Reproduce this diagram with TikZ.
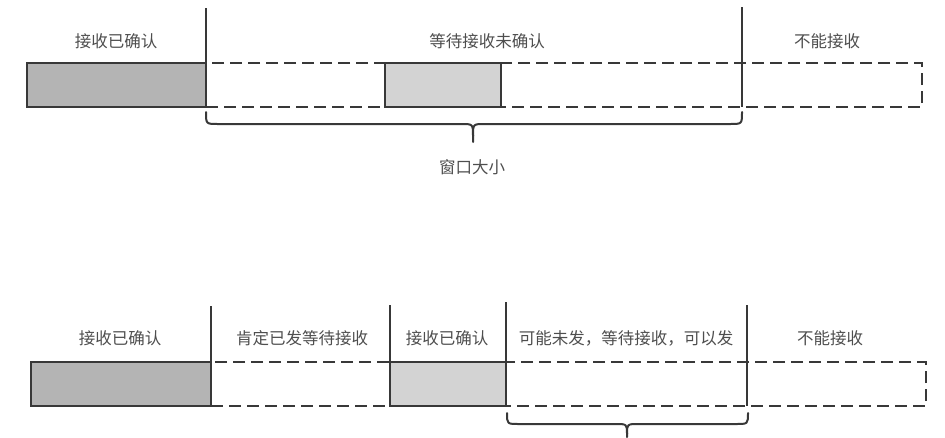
\documentclass[tikz,border=0pt]{standalone}
\usepackage{fontspec}
\setmainfont{Noto Sans CJK SC}
\definecolor{linec}{HTML}{383838}
\definecolor{textc}{HTML}{4E4E4E}
\definecolor{darkf}{HTML}{B4B4B4}
\definecolor{lightf}{HTML}{D3D3D3}
\begin{document}
\begin{tikzpicture}[x=1pt,y=-1pt,
  sepline/.style={draw=linec, line width=2pt},
  boxbase/.style={draw=linec, line width=2pt, anchor=north west, inner sep=0pt, outer sep=0pt, minimum height=44pt},
  darkbox/.style={boxbase, fill=darkf},
  lightbox/.style={boxbase, fill=lightf},
  dashbox/.style={boxbase, dash pattern=on 12pt off 6pt},
  lbl/.style={text=textc, font=\fontsize{16.5}{18}\selectfont, inner sep=0pt},
  bracepath/.style={draw=linec, line width=2pt, line cap=round, line join=round}]
\useasboundingbox (0,0) rectangle (945,437);

% ---------- top row ----------
\node[dashbox, minimum width=716pt] (tw) at (206,63) {};
\node[darkbox, minimum width=179pt] (ta) at (27,63) {};
\node[lightbox, minimum width=116pt] (tb) at (385,63) {};
\coordinate (t1top) at (206,8);
\coordinate (t2top) at (742,7);
\coordinate (t2bot) at (742,107);
\draw[sepline] (t1top) -- (ta.south east);
\draw[sepline] (t2top) -- (t2bot);

\node[lbl] (l1) at (116,41) {接收已确认};
\node[lbl] (l2) at (487,41) {等待接收未确认};
\node[lbl] (l3) at (827,41) {不能接收};

\coordinate (tbl) at (206,112);
\coordinate (tbr) at (742,112);
\coordinate (tbt) at (473,142);
\draw[bracepath] (tbl) .. controls (206,124) .. (218,124) -- (461,124) .. controls (473,124) .. (473,136) -- (tbt);
\draw[bracepath] (tbr) .. controls (742,124) .. (730,124) -- (485,124) .. controls (473,124) .. (473,136);
\node[lbl] (win) at (472,167) {窗口大小};

% ---------- bottom row ----------
\node[dashbox, minimum width=715pt] (bw) at (211,362) {};
\node[darkbox, minimum width=180pt] (ba) at (31,362) {};
\node[lightbox, minimum width=116pt] (bb) at (390,362) {};
\coordinate (b1top) at (211,306);
\coordinate (b2top) at (390,305);
\coordinate (b3top) at (506,302);
\coordinate (b4top) at (747,305);
\coordinate (b4bot) at (747,406);
\draw[sepline] (b1top) -- (ba.south east);
\draw[sepline] (b2top) -- (bb.south west);
\draw[sepline] (b3top) -- (bb.south east);
\draw[sepline] (b4top) -- (b4bot);

\node[lbl] (m1) at (120,338) {接收已确认};
\node[lbl] (m2) at (302,338) {肯定已发等待接收};
\node[lbl] (m3) at (447,338) {接收已确认};
\node[lbl] (m4) at (626,338) {可能未发，等待接收，可以发};
\node[lbl] (m5) at (830,338) {不能接收};

\coordinate (bbl) at (507,413);
\coordinate (bbr) at (748,413);
\coordinate (bbt) at (627,437);
\draw[bracepath] (bbl) .. controls (507,424) .. (519,424) -- (615,424) .. controls (627,424) .. (627,434) -- (bbt);
\draw[bracepath] (bbr) .. controls (748,424) .. (736,424) -- (639,424) .. controls (627,424) .. (627,434);
\end{tikzpicture}
\end{document}
